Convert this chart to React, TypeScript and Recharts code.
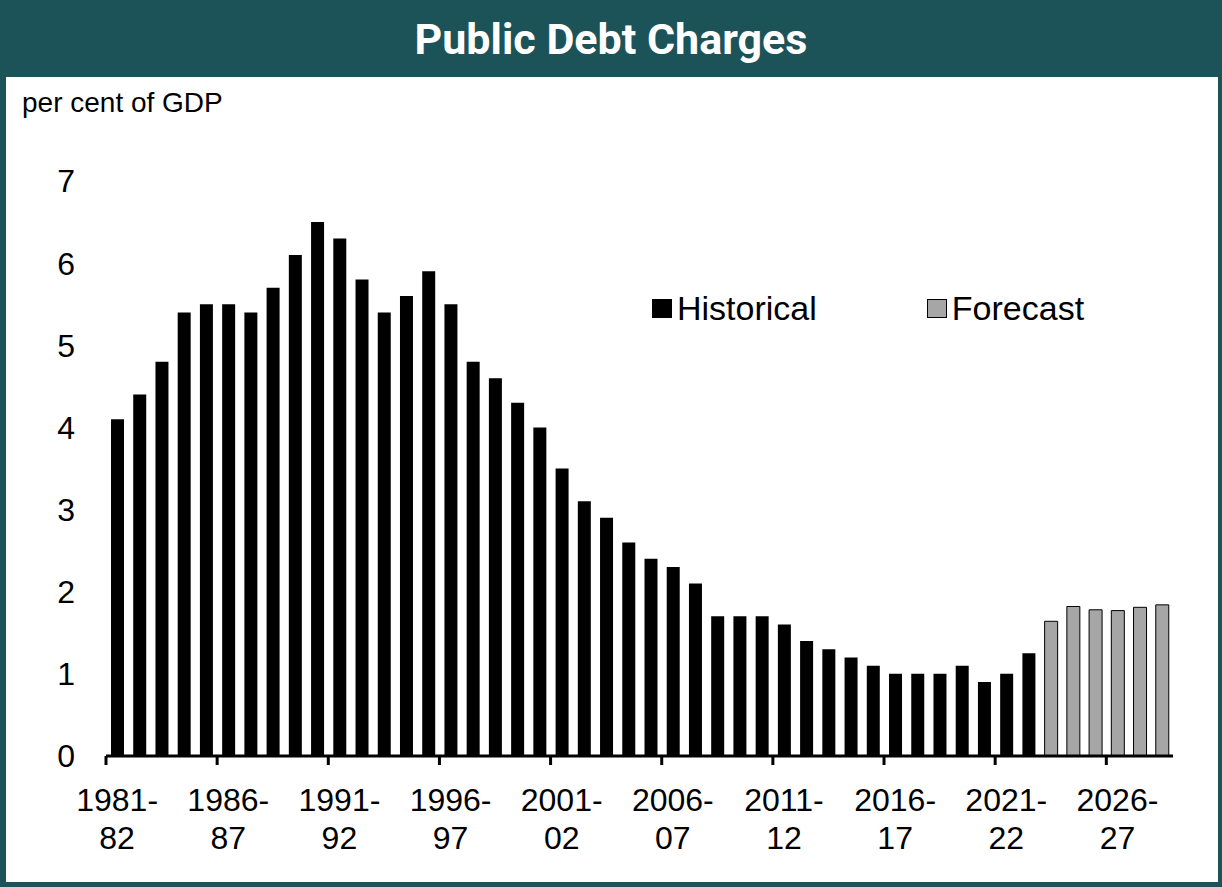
import { BarChart, Bar, XAxis, YAxis } from 'recharts';

const categories = [
  '1981-82', '1982-83', '1983-84', '1984-85', '1985-86', '1986-87', '1987-88', '1988-89',
  '1989-90', '1990-91', '1991-92', '1992-93', '1993-94', '1994-95', '1995-96', '1996-97',
  '1997-98', '1998-99', '1999-00', '2000-01', '2001-02', '2002-03', '2003-04', '2004-05',
  '2005-06', '2006-07', '2007-08', '2008-09', '2009-10', '2010-11', '2011-12', '2012-13',
  '2013-14', '2014-15', '2015-16', '2016-17', '2017-18', '2018-19', '2019-20', '2020-21',
  '2021-22', '2022-23', '2023-24', '2024-25', '2025-26', '2026-27', '2027-28', '2028-29',
];

// per cent of GDP
const historical = [
  4.1, 4.4, 4.8, 5.4, 5.5, 5.5, 5.4, 5.7, 6.1, 6.5, 6.3, 5.8, 5.4, 5.6, 5.9, 5.5,
  4.8, 4.6, 4.3, 4.0, 3.5, 3.1, 2.9, 2.6, 2.4, 2.3, 2.1, 1.7, 1.7, 1.7, 1.6, 1.4,
  1.3, 1.2, 1.1, 1.0, 1.0, 1.0, 1.1, 0.9, 1.0, 1.25,
];
const forecast = [1.64, 1.82, 1.78, 1.77, 1.81, 1.84];
const yTicks = [0, 1, 2, 3, 4, 5, 6, 7];

const data = categories.map((year, i) => ({
  year,
  historical: i < historical.length ? historical[i] : null,
  forecast: i >= historical.length ? forecast[i - historical.length] : null,
}));

const W = 1222;
const H = 887;
const TEAL = '#1b5359';
const FONT = '"Liberation Sans", Arial, sans-serif';
const PLOT_LEFT = 106;
const PLOT_RIGHT = 1173;
const PLOT_TOP = 181;
const PLOT_BOTTOM = 756;
const BAND = (PLOT_RIGHT - PLOT_LEFT) / categories.length;

function YearTick(props: any) {
  const { x, y, payload } = props;
  const [first, second] = String(payload.value).split('-');
  const edge = x - BAND / 2;
  return (
    <g>
      <line x1={edge} x2={edge} y1={y} y2={y + 9} stroke="#000" strokeWidth={3} />
      <text x={x} y={y + 55} textAnchor="middle" fontSize={32} fontFamily={FONT} fill="#000">
        {first}-
      </text>
      <text x={x} y={y + 93} textAnchor="middle" fontSize={32} fontFamily={FONT} fill="#000">
        {second}
      </text>
    </g>
  );
}

function LegendItem({ label, fill }: { label: string; fill: string }) {
  return (
    <div style={{ display: 'flex', alignItems: 'center' }}>
      <div
        style={{
          width: 18,
          height: 17,
          background: fill,
          border: '1px solid #000',
          marginRight: 5,
        }}
      />
      <span style={{ fontSize: 34, fontFamily: FONT, color: '#000' }}>{label}</span>
    </div>
  );
}

export default function App() {
  return (
    <div
      style={{
        position: 'absolute',
        left: 0,
        top: 0,
        width: W,
        height: H,
        background: TEAL,
        overflow: 'hidden',
      }}
    >
      <div
        style={{
          position: 'absolute',
          left: 0,
          top: 0,
          width: W,
          height: 77,
          color: '#fff',
          fontFamily: 'Roboto, sans-serif',
          fontWeight: 700,
          fontSize: 43,
          lineHeight: '78px',
          textAlign: 'center',
        }}
      >
        Public Debt Charges
      </div>
      <div
        style={{
          position: 'absolute',
          left: 6,
          top: 77,
          width: W - 10,
          height: 805,
          background: '#fff',
        }}
      />
      <div
        style={{
          position: 'absolute',
          left: 22,
          top: 87,
          fontFamily: FONT,
          fontSize: 28,
          color: '#000',
        }}
      >
        per cent of GDP
      </div>
      <div style={{ position: 'absolute', left: 0, top: 0 }}>
        <BarChart
          width={W}
          height={H}
          data={data}
          margin={{ top: PLOT_TOP, right: W - PLOT_RIGHT, bottom: 0, left: 0 }}
          barSize={13}
        >
          <XAxis
            dataKey="year"
            interval={4}
            height={H - PLOT_BOTTOM}
            axisLine={{ stroke: '#000', strokeWidth: 3 }}
            tickLine={false}
            tickSize={0}
            tickMargin={0}
            tick={<YearTick />}
          />
          <YAxis
            domain={[0, 7]}
            ticks={yTicks}
            width={PLOT_LEFT}
            axisLine={false}
            tickLine={false}
            tickSize={0}
            tickMargin={31}
            tick={{ fontSize: 32, fontFamily: FONT, fill: '#000' }}
          />
          <Bar dataKey="historical" name="Historical" stackId="a" fill="#000" isAnimationActive={false} />
          <Bar
            dataKey="forecast"
            name="Forecast"
            stackId="a"
            fill="#a6a6a6"
            stroke="#000"
            strokeWidth={1}
            isAnimationActive={false}
          />
        </BarChart>
      </div>
      <div
        style={{
          position: 'absolute',
          left: 652,
          top: 289,
          display: 'flex',
          gap: 110,
        }}
      >
        <LegendItem label="Historical" fill="#000" />
        <LegendItem label="Forecast" fill="#a6a6a6" />
      </div>
    </div>
  );
}
